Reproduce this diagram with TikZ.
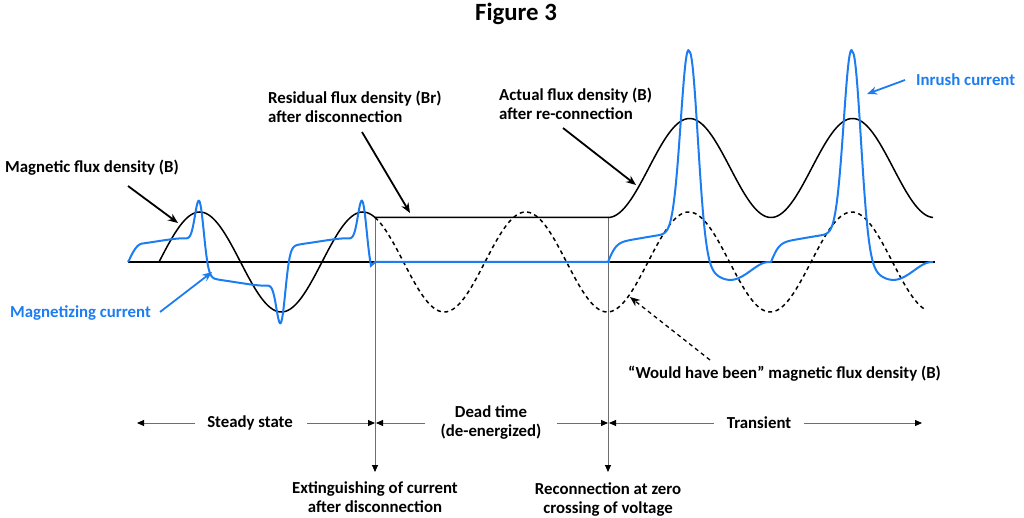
\documentclass[tikz,border=0pt]{standalone}
\usepackage{fontspec}
\setmainfont{Carlito}
\usetikzlibrary{arrows.meta}
\definecolor{mblue}{RGB}{28,125,242}
\definecolor{dgray}{RGB}{110,110,110}
\begin{document}
\begin{tikzpicture}[x=1pt,y=-1pt,
  declare function={
    sqr(\a)=\a*\a;
    pxvi(\a)=sqr(sqr(sqr(sqr(\a))));
    ph(\a)=2.208589*(\a-159);
    th(\a)=2.208589*(\a-608);
    rmp(\a)=min(1,(\a-128)/14);
    env(\a)=rmp(\a)*(2-rmp(\a));
    iss(\a)=env(\a)*(21*tanh(3.5*cos(ph(\a)))+4*sin(ph(\a))+56*sin(ph(\a))*pxvi(sqr(sin(ph(\a))))*sqr(sin(ph(\a))));
    wt(\a)=(1-cos(th(\a)))/2;
    hy(\a)=tanh(3*sin(th(\a)));
    itr(\a)=22*max(0,hy(\a))*(0.95+0.4*wt(\a))+72*min(0,hy(\a))*wt(\a)*(1-wt(\a))+210*pxvi(wt(\a))*sqr(sqr(wt(\a)));
  },
  lbl/.style={font=\fontsize{16.8}{19}\selectfont\bfseries, inner sep=0pt},
  flux/.style={black, line width=1.5pt},
  wouldflux/.style={black, line width=1.5pt, dash pattern=on 4pt off 3.5pt},
  curr/.style={mblue, line width=2pt},
  larrow/.style={black, line width=1.8pt, -{Stealth[length=10pt,width=8pt]}},
  barrow/.style={mblue, line width=1.8pt, -{Stealth[length=10pt,width=8pt]}},
  darrow/.style={black, line width=1.3pt, dash pattern=on 4pt off 3.5pt, -{Stealth[length=10pt,width=8pt]}},
  dimarrow/.style={dgray, line width=0.9pt, -{Triangle[length=7pt,width=6pt,color=black]}},
  vline/.style={dgray, line width=0.9pt, -{Triangle[length=7pt,width=6pt,color=black]}},
]
\useasboundingbox (0,0) rectangle (1024,518);

% title
\node[font=\fontsize{24.8}{28}\selectfont\bfseries, inner sep=0pt] (title) at (516,14) {Figure 3};

% axis
\coordinate (axL) at (128,262);
\coordinate (axR) at (935,262);
\draw[black, line width=2pt] (axL) -- (axR);

% vertical markers
\coordinate (v1top) at (375,217.5);
\coordinate (v1bot) at (375,472);
\coordinate (v2top) at (608,217.5);
\coordinate (v2bot) at (608,472);
\draw[vline] (v1top) -- (v1bot);
\draw[vline] (v2top) -- (v2bot);

% flux curves
\draw[flux] plot[domain=159:375, samples=160] (\x,{262-50*sin(ph(\x))}) -- (608,217.5);
\draw[flux] plot[domain=608:933, samples=200] (\x,{217.5-99*wt(\x)});
\draw[wouldflux] plot[domain=375:925, samples=300] (\x,{262-50*sin(ph(\x))});

% currents
\draw[curr] plot[domain=128:371, samples=500] (\x,{262-iss(\x)}) -- (375,262) -- (610,262);
\draw[curr] plot[domain=608:933, samples=600] (\x,{262-itr(\x)});

% labels with arrows
\node[lbl, anchor=west] (mfd) at (5,168) {Magnetic flux density (B)};
\coordinate (mfdS) at (128,186);
\coordinate (mfdT) at (178,223);
\draw[larrow] (mfdS) -- (mfdT);

\node[lbl, anchor=west, text=mblue] (mc) at (10,313) {Magnetizing current};
\coordinate (mcS) at (160,312);
\coordinate (mcT) at (212,272);
\draw[barrow] (mcS) -- (mcT);

\node[lbl, anchor=west, align=left] (res) at (268,106.5) {Residual flux density (Br)\\after disconnection};
\coordinate (resS) at (362,132);
\coordinate (resT) at (410,213);
\draw[larrow] (resS) -- (resT);

\node[lbl, anchor=west, align=left] (act) at (499,103.5) {Actual flux density (B)\\after re-connection};
\coordinate (actS) at (563,128);
\coordinate (actT) at (636,185);
\draw[larrow] (actS) -- (actT);

\node[lbl, anchor=west, text=mblue] (inr) at (916,80) {Inrush current};
\coordinate (inrS) at (905,80);
\coordinate (inrT) at (867,94);
\draw[barrow] (inrS) -- (inrT);

\node[lbl, anchor=west] (would) at (628,374) {“Would have been” magnetic flux density (B)};
\coordinate (wS) at (710,360);
\coordinate (wT) at (630,297);
\draw[darrow] (wS) -- (wT);

% interval labels
\node[lbl] (ss) at (250,423) {Steady state};
\node[lbl, align=center] (dt) at (491,422.5) {Dead time\\(de-energized)};
\node[lbl] (tr) at (759,423) {Transient};
\coordinate (ssL) at (137,423);
\coordinate (ssR) at (375,423);
\coordinate (dtL) at (376,423);
\coordinate (dtR) at (608,423);
\coordinate (trL) at (609,423);
\coordinate (trR) at (922,423);
\draw[dimarrow] ([xshift=-12pt]ss.west) -- (ssL);
\draw[dimarrow] ([xshift=14pt]ss.east) -- (ssR);
\draw[dimarrow] (425,423) -- (dtL);
\draw[dimarrow] (557,423) -- (dtR);
\draw[dimarrow] ([xshift=-13pt]tr.west) -- (trL);
\draw[dimarrow] ([xshift=13pt]tr.east) -- (trR);

% bottom labels
\node[lbl, align=center] (ext) at (375,497.5) {Extinguishing of current\\after disconnection};
\node[lbl, align=center] (rec) at (608,500) {Reconnection at zero\\crossing of voltage};
\end{tikzpicture}
\end{document}
